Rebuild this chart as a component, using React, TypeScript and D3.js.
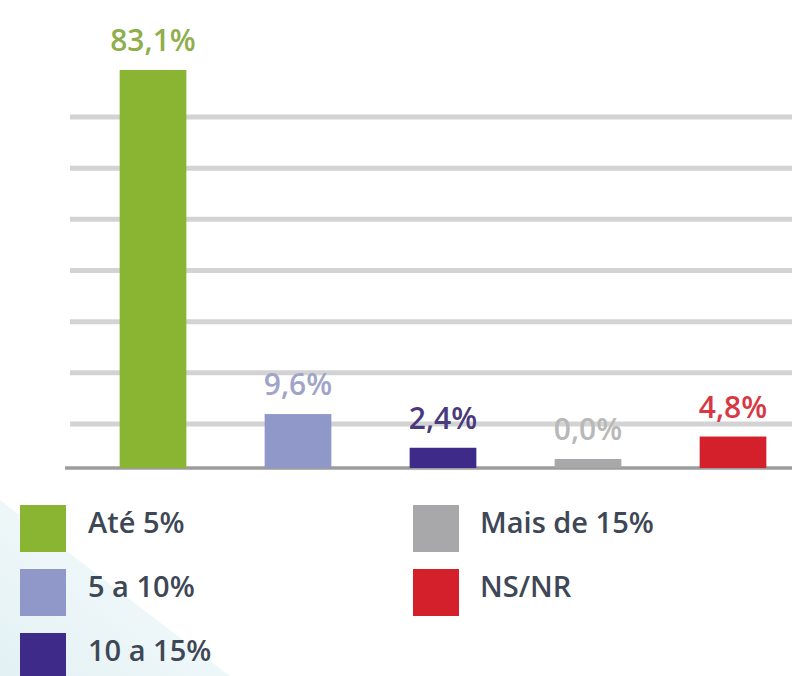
import React, { useEffect, useRef } from "react";
import * as d3 from "d3";

const categories = ["Até 5%", "5 a 10%", "10 a 15%", "Mais de 15%", "NS/NR"];
const values = [83.1, 9.6, 2.4, 0.0, 4.8];
const barColors = ["#8ab532", "#9097c9", "#3e2a88", "#a8a8aa", "#d4202b"];
const labelColors = ["#8fae4c", "#a0a4c9", "#483a7c", "#b8b8b8", "#d83843"];
const gridCount = 7;

const width = 792;
const height = 676;

export default function App() {
  const ref = useRef<SVGSVGElement>(null);

  useEffect(() => {
    const svg = d3.select(ref.current);
    svg.selectAll("*").remove();

    const axisY = 468;
    const x = d3
      .scaleBand<string>()
      .domain(categories)
      .range([80.5, 805.5])
      .paddingInner(0.54)
      .paddingOuter(0.27);
    // zero sits a bit above the axis line, like in the original
    const y = d3.scaleLinear().domain([0, 83.1]).range([459, 70]);
    const grid = d3.scaleLinear().domain([1, gridCount]).range([424, 117]);

    // faint background wedge, bottom-left
    const defs = svg.append("defs");
    const lg = defs
      .append("linearGradient")
      .attr("id", "wedge")
      .attr("x1", 0)
      .attr("y1", 1)
      .attr("x2", 1)
      .attr("y2", 0);
    lg.append("stop").attr("offset", 0).attr("stop-color", "#e3f1f4");
    lg.append("stop").attr("offset", 1).attr("stop-color", "#fafdfd");
    svg
      .append("path")
      .attr("d", "M0,500 L0,676 L230,676 Z")
      .attr("fill", "url(#wedge)");

    svg
      .append("g")
      .selectAll("line")
      .data(d3.range(1, gridCount + 1))
      .join("line")
      .attr("x1", 70)
      .attr("x2", width)
      .attr("y1", (d) => grid(d))
      .attr("y2", (d) => grid(d))
      .attr("stroke", "#d3d3d3")
      .attr("stroke-width", 5);

    svg
      .append("line")
      .attr("x1", 65)
      .attr("x2", width)
      .attr("y1", axisY)
      .attr("y2", axisY)
      .attr("stroke", "#9c9c9c")
      .attr("stroke-width", 3.5);

    svg
      .append("g")
      .selectAll("rect")
      .data(values)
      .join("rect")
      .attr("x", (d, i) => x(categories[i]) as number)
      .attr("width", x.bandwidth())
      .attr("y", (d) => y(d))
      .attr("height", (d) => axisY - y(d))
      .attr("fill", (d, i) => barColors[i]);

    svg
      .append("g")
      .selectAll("text")
      .data(values)
      .join("text")
      .attr("x", (d, i) => (x(categories[i]) as number) + x.bandwidth() / 2)
      .attr("y", (d) => y(d) - 19)
      .attr("text-anchor", "middle")
      .attr("font-family", "'Open Sans', sans-serif")
      .attr("font-weight", 600)
      .attr("font-size", 30)
      .attr("fill", (d, i) => labelColors[i])
      .text((d) => d.toFixed(1).replace(".", ",") + "%");

    // legend, two columns
    const legend = svg.append("g");
    const items = legend
      .selectAll("g")
      .data(categories)
      .join("g")
      .attr("transform", (d, i) =>
        i < 3 ? `translate(20, ${505 + i * 64})` : `translate(413, ${505 + (i - 3) * 64})`
      );
    items
      .append("rect")
      .attr("width", 46)
      .attr("height", 47)
      .attr("fill", (d, i) => barColors[i]);
    items
      .append("text")
      .attr("x", (d, i) => (i < 3 ? 68 : 67))
      .attr("y", 28)
      .attr("font-family", "'Open Sans', sans-serif")
      .attr("font-weight", 600)
      .attr("font-size", 29)
      .attr("fill", "#3e4756")
      .text((d) => d);
  }, []);

  return (
    <div style={{ position: "fixed", left: 0, top: 0, background: "#fff" }}>
      <svg ref={ref} width={width} height={height} style={{ display: "block" }} />
    </div>
  );
}
